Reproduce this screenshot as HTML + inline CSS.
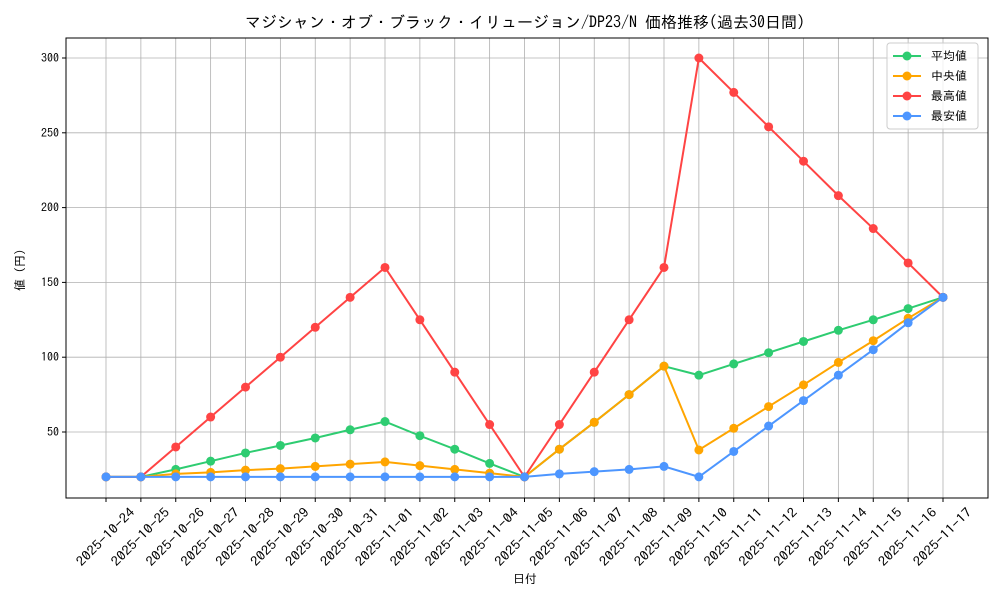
<!DOCTYPE html>
<html><head><meta charset="utf-8"><style>
body{margin:0;background:#fff;}
svg text{font-family:"IPAGothic","Noto Sans CJK JP",sans-serif;fill:#000;}
</style></head><body>
<svg id="chart" width="1000" height="600" viewBox="0 0 1000 600" xmlns="http://www.w3.org/2000/svg">
<rect width="1000" height="600" fill="#fff"/>
<text x="525" y="28" font-size="16" text-anchor="middle">マジシャン・オブ・ブラック・イリュージョン/DP23/N 価格推移(過去30日間)</text>
<g id="grid"></g><g id="axes"></g><g id="series"></g>
<rect x="66" y="38" width="922" height="460" fill="none" stroke="#000" stroke-width="1"/>
<text x="525" y="583" font-size="12" text-anchor="middle">日付</text>
<text x="24" y="270" font-size="12" text-anchor="middle" transform="rotate(-90 24 270)">値 (円)</text>
<g id="legend"></g>
</svg>
<script>
const dates=["2025-10-24","2025-10-25","2025-10-26","2025-10-27","2025-10-28","2025-10-29","2025-10-30","2025-10-31","2025-11-01","2025-11-02","2025-11-03","2025-11-04","2025-11-05","2025-11-06","2025-11-07","2025-11-08","2025-11-09","2025-11-10","2025-11-11","2025-11-12","2025-11-13","2025-11-14","2025-11-15","2025-11-16","2025-11-17"];
const avgValues=[20,20,25,30.5,36,41,46,51.5,57,47.5,38.5,29,20,38.5,56.5,75,94,88,95.5,103,110.5,118,125,132.5,140];
const medianValues=[20,20,22,23,24.5,25.5,27,28.5,30,27.5,25,22.5,20,38.5,56.5,75,94,38,52.5,67,81.5,96.5,111,126,140];
const maxValues=[20,20,40,60,80,100,120,140,160,125,90,55,20,55,90,125,160,300,277,254,231,208,186,163,140];
const minValues=[20,20,20,20,20,20,20,20,20,20,20,20,20,22,23.5,25,27,20,37,54,71,88,105,123,140];
const yTicks=[50,100,150,200,250,300];
const seriesNames=["平均値","中央値","最高値","最安値"];
const NS="http://www.w3.org/2000/svg";
function mk(t,a,p){const e=document.createElementNS(NS,t);for(const k in a)e.setAttribute(k,a[k]);p.appendChild(e);return e;}
const X=i=>106+i*(943-106)/(dates.length-1);
const Y=v=>506.8-v*(74.8/50);
const grid=document.getElementById('grid'),axes=document.getElementById('axes'),ser=document.getElementById('series'),leg=document.getElementById('legend');
dates.forEach((d,i)=>{
 const g=mk('line',{x1:X(i),x2:X(i),y1:38,y2:498,stroke:'#b0b0b0','stroke-width':0.8},grid);
 
 const t=mk('line',{x1:X(i),x2:X(i),y1:498,y2:502,stroke:'#000'},axes);
 
 const cx=X(i)-0.5,cy=537;
 const tx=mk('text',{x:cx,y:cy+4.5,'font-size':13,'text-anchor':'middle',textLength:76,lengthAdjust:'spacingAndGlyphs',transform:`rotate(-45 ${cx} ${cy})`},axes);
 tx.textContent=d;
 
});
yTicks.forEach(v=>{
 const g=mk('line',{x1:66,x2:988,y1:Y(v),y2:Y(v),stroke:'#b0b0b0','stroke-width':0.8},grid);
 
 const t=mk('line',{x1:62,x2:66,y1:Y(v),y2:Y(v),stroke:'#000'},axes);
 
 const tx=mk('text',{x:59,y:Y(v)+4,'font-size':12,'text-anchor':'end'},axes);
 tx.textContent=v;
 
});
const all=[avgValues,medianValues,maxValues,minValues];
const colors=['#2ecc71','#ffa500','#ff4444','#4d96ff'];
const keys=['average','median','max','min'];
all.forEach((vals,s)=>{
 const pl=mk('polyline',{points:vals.map((v,i)=>X(i)+','+Y(v)).join(' '),fill:'none',stroke:colors[s],'stroke-width':2},ser);
 
 vals.forEach((v,i)=>{
  const c=mk('circle',{cx:X(i),cy:Y(v),r:4.5,fill:colors[s]},ser);
  
 });
});
const lb=mk('rect',{x:887,y:43,width:91,height:86,rx:3,fill:'#fff','fill-opacity':0.8,stroke:'#ccc'},leg);

seriesNames.forEach((n,s)=>{
 const y=56+s*20;
 const l=mk('line',{x1:893,x2:921,y1:y,y2:y,stroke:colors[s],'stroke-width':2},leg);
 
 const c=mk('circle',{cx:907,cy:y,r:4.5,fill:colors[s]},leg);
 
 const t=mk('text',{x:931,y:y+4,'font-size':12},leg);
 t.textContent=n;
 
});
</script>
</body></html>
